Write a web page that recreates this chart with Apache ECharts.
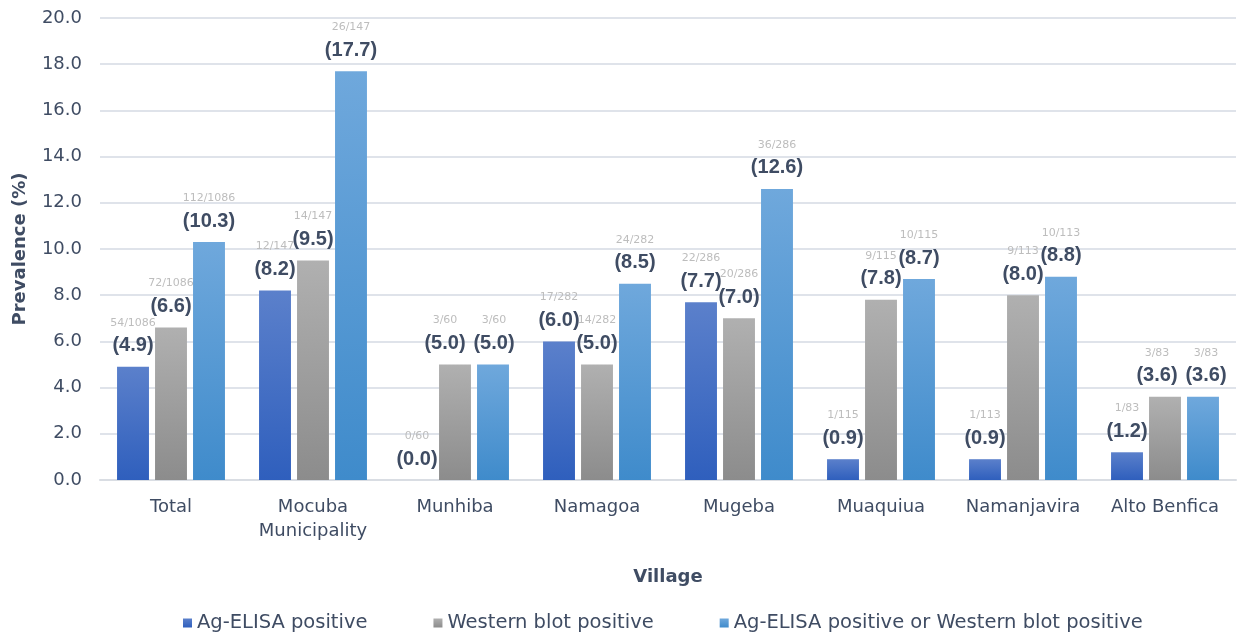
<!DOCTYPE html>
<html>
<head>
<meta charset="utf-8">
<script src="https://cdn.jsdelivr.net/npm/echarts@6/dist/echarts.min.js"></script>
<style>html,body{margin:0;padding:0;background:#fff;}#c{width:1241px;height:634px;}</style>
</head>
<body>
<div id="c"></div>
<script>
const categories = ['Total', 'Mocuba\nMunicipality', 'Munhiba', 'Namagoa', 'Mugeba', 'Muaquiua', 'Namanjavira', 'Alto Benfica'];
const seriesNames = ['Ag-ELISA positive', 'Western blot positive', 'Ag-ELISA positive or Western blot positive'];
const agElisa = [4.9, 8.2, 0.0, 6.0, 7.7, 0.9, 0.9, 1.2];
const agElisaCounts = ['54/1086', '12/147', '0/60', '17/282', '22/286', '1/115', '1/113', '1/83'];
const westernBlot = [6.6, 9.5, 5.0, 5.0, 7.0, 7.8, 8.0, 3.6];
const westernBlotCounts = ['72/1086', '14/147', '3/60', '14/282', '20/286', '9/115', '9/113', '3/83'];
const either = [10.3, 17.7, 5.0, 8.5, 12.6, 8.7, 8.8, 3.6];
const eitherCounts = ['112/1086', '26/147', '3/60', '24/282', '36/286', '10/115', '10/113', '3/83'];
const yTicks = [0, 2, 4, 6, 8, 10, 12, 14, 16, 18, 20];

const FONT = '"DejaVu Sans", "Liberation Sans", Arial, sans-serif';
const BOLDFONT = '"Liberation Sans", Arial, sans-serif';
const TEXT = '#3f4c63';
function grad(top, bottom) {
  return new echarts.graphic.LinearGradient(0, 0, 0, 1, [
    { offset: 0, color: top }, { offset: 1, color: bottom }
  ]);
}
const colors = [grad('#5b80cb', '#2f5fbd'), grad('#b0b0b0', '#8c8c8c'), grad('#6fa8dc', '#3f8bcb')];
// horizontal nudges for labels that would otherwise collide (style only)
const labelNudge = { '1-2': -10, '2-2': 1, '1-7': -8, '2-7': 3 };

function mkSeries(i, values, counts) {
  return {
    name: seriesNames[i],
    type: 'bar',
    data: values.map((v, j) => {
      const dx = labelNudge[i + '-' + j];
      return dx ? { value: v, label: { offset: [dx, 0] } } : v;
    }),
    itemStyle: { color: colors[i] },
    barGap: '19%',
    barCategoryGap: '24%',
    label: {
      show: true,
      position: 'top',
      distance: 9,
      formatter: p => '{n|' + counts[p.dataIndex] + '}\n{v|(' + values[p.dataIndex].toFixed(1) + ')}',
      rich: {
        n: { fontFamily: FONT, fontSize: 11, color: '#bdbdbd', lineHeight: 22, align: 'center' },
        v: { fontFamily: BOLDFONT, fontSize: 20, fontWeight: 'bold', color: TEXT, lineHeight: 24, align: 'center' }
      }
    }
  };
}

const chart = echarts.init(document.getElementById('c'), null, { renderer: 'canvas' });
chart.setOption({
  animation: false,
  backgroundColor: '#ffffff',
  textStyle: { fontFamily: FONT },
  grid: { left: 100, right: 5, top: 18, bottom: 154, containLabel: false, outerBoundsMode: 'none' },
  legend: {
    top: 613,
    left: 183,
    itemWidth: 9,
    itemHeight: 9,
    itemGap: 66,
    icon: 'rect',
    padding: 0,
    textStyle: { fontFamily: FONT, fontSize: 19.5, color: TEXT },
    data: seriesNames
  },
  xAxis: {
    type: 'category',
    data: categories,
    name: 'Village',
    nameLocation: 'middle',
    nameGap: 88,
    nameTextStyle: { fontFamily: FONT, fontSize: 18, fontWeight: 'bold', color: TEXT },
    axisLine: { lineStyle: { color: '#d9dde3', width: 2 } },
    axisTick: { show: false },
    axisLabel: { interval: 0, fontFamily: FONT, fontSize: 18, color: TEXT, margin: 15, lineHeight: 24 }
  },
  yAxis: {
    type: 'value',
    min: yTicks[0],
    max: yTicks[yTicks.length - 1],
    interval: 2,
    name: 'Prevalence (%)',
    nameLocation: 'middle',
    nameGap: 71,
    nameTextStyle: { fontFamily: FONT, fontSize: 18, fontWeight: 'bold', color: TEXT },
    axisLine: { show: false },
    axisTick: { show: false },
    axisLabel: { fontFamily: FONT, fontSize: 18, color: TEXT, margin: 18, formatter: v => v.toFixed(1) },
    splitLine: { lineStyle: { color: '#dfe3ea', width: 2 } }
  },
  series: [
    mkSeries(0, agElisa, agElisaCounts),
    mkSeries(1, westernBlot, westernBlotCounts),
    mkSeries(2, either, eitherCounts)
  ]
});
</script>
</body>
</html>
